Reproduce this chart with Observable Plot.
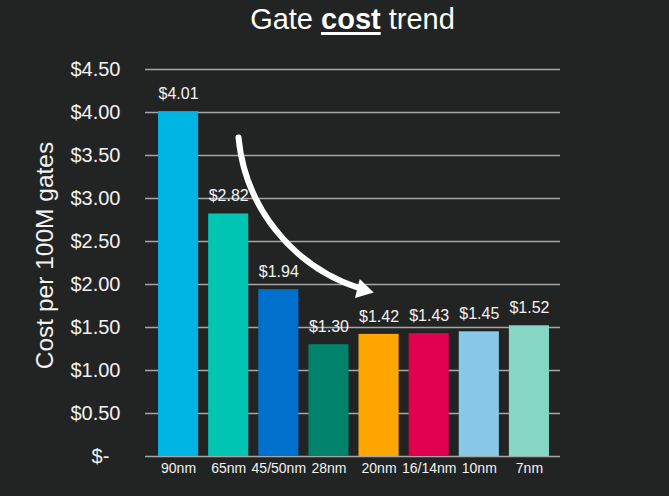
<!DOCTYPE html>
<html><head><meta charset="utf-8">
<script src="https://cdn.jsdelivr.net/npm/d3@7"></script>
<script src="https://cdn.jsdelivr.net/npm/@observablehq/plot@0.6"></script>
<style>
html,body{margin:0;padding:0;background:#222424;}
#wrap{position:relative;width:669px;height:496px;background:#222424;font-family:"Liberation Sans",Arial,sans-serif;}
#title{position:absolute;left:0;top:3px;width:669px;padding-left:36px;box-sizing:border-box;text-align:center;color:#ffffff;font-size:29px;}
#title b{text-decoration:underline;text-decoration-thickness:3px;text-underline-offset:3px;}
#chart{position:absolute;left:0;top:0;}
</style></head>
<body><div id="wrap"><div id="chart"></div><div id="title">Gate <b>cost</b> trend</div></div>
<script>
const nodes = ["90nm","65nm","45/50nm","28nm","20nm","16/14nm","10nm","7nm"];
const costs = [4.01, 2.82, 1.94, 1.30, 1.42, 1.43, 1.45, 1.52];
const barColors = ["#00b4e4","#00c5b2","#0070cd","#00826b","#ffa600","#e0004e","#88c9ea","#86d6c6"];
const yTicks = [0, 0.5, 1, 1.5, 2, 2.5, 3, 3.5, 4, 4.5];
const yLabel = "Cost per 100M gates";
// trend arrow annotation, in data units (node index, cost)
const arrowShaft = [{x1: 1.196, y1: 3.71, x2: 3.57, y2: 1.965}];
const arrowHead = [{x: 3.676, y: 1.938}];

const data = nodes.map((n, i) => ({i, node: n, cost: costs[i], color: barColors[i]}));
const fmt = d => d === 0 ? "$-\u2007" : "$" + d.toFixed(2);
const half = 0.4;

const chart = Plot.plot({
  width: 669, height: 496,
  marginTop: 69, marginBottom: 40, marginLeft: 153, marginRight: 115,
  style: {background: "transparent", color: "#f2f2f2", fontFamily: "'Liberation Sans', Arial, sans-serif"},
  x: {domain: [-0.5, nodes.length - 0.5], label: null},
  y: {domain: [0, 4.5], label: null},
  color: {type: "identity"},
  marks: [
    Plot.ruleY(yTicks, {stroke: "#a6a6a6", strokeWidth: 1.5, insetLeft: -8, insetRight: -6}),
    Plot.rectY(data, {x1: d => d.i - half, x2: d => d.i + half, y1: 0, y2: "cost", fill: "color"}),
    Plot.text(data, {x: "i", y: "cost", text: d => "$" + d.cost.toFixed(2), dy: -18, fontSize: 16, fill: "#f2f2f2"}),
    Plot.axisY(yTicks, {tickSize: 0, tickPadding: 33, tickFormat: fmt, fontSize: 20, label: null, fill: "#f2f2f2"}),
    Plot.axisX(d3.range(nodes.length), {tickSize: 0, tickPadding: 7, fontSize: 14, label: null, fill: "#f2f2f2", tickFormat: i => nodes[i]}),
    Plot.text([yLabel], {frameAnchor: "left", textAnchor: "middle", rotate: -90, dx: -108, dy: -7.5, fontSize: 24.5, fill: "#f2f2f2"}),
    Plot.arrow(arrowShaft, {x1: "x1", y1: "y1", x2: "x2", y2: "y2", bend: -33, stroke: "white", strokeWidth: 6, headLength: 0}),
    Plot.dot(arrowHead, {x: "x", y: "y", symbol: "triangle", r: 7.2, rotate: 104, fill: "white", stroke: "none"})
  ]
});
document.getElementById("chart").appendChild(chart);
</script>
</body></html>
